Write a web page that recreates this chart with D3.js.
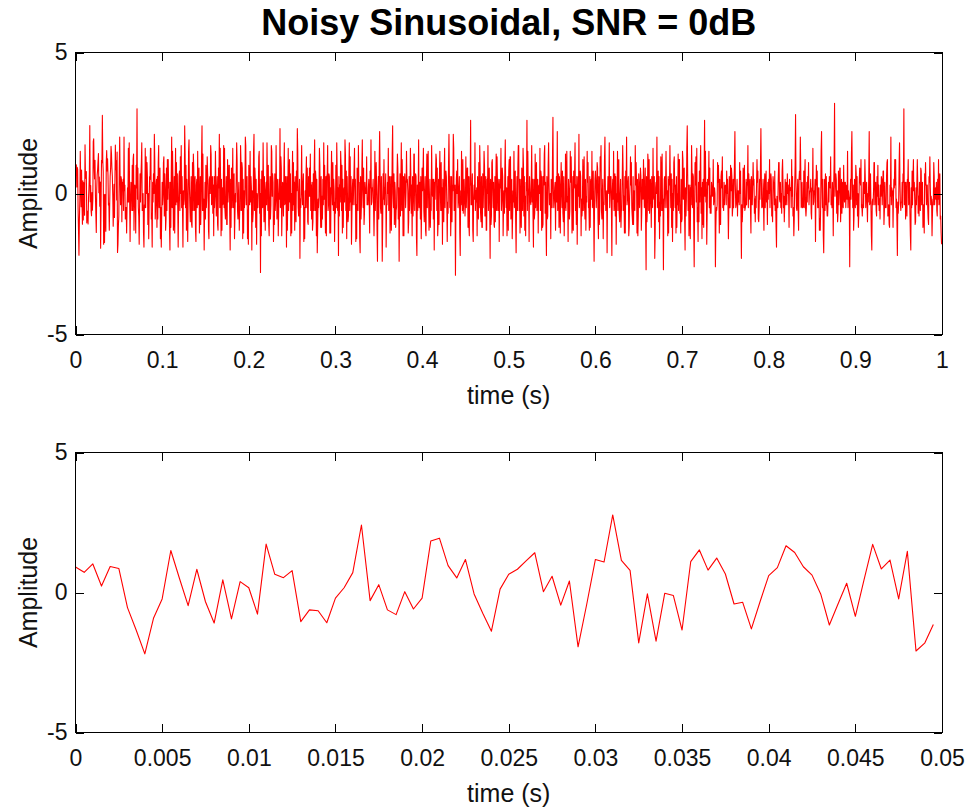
<!DOCTYPE html>
<html lang="en">
<head>
<meta charset="UTF-8">
<title>Noisy Sinusoidal, SNR = 0dB</title>
<style>
  body { margin: 0; background: #fff; }
  .axis text { font-family: "Liberation Sans", Arial, sans-serif; font-size: 23px; fill: #111; }
  .axis line { stroke: #000; shape-rendering: crispEdges; }
  .box { fill: none; stroke: #000; shape-rendering: crispEdges; }
  .label { font-family: "Liberation Sans", Arial, sans-serif; font-size: 25px; fill: #111; }
  .title { font-family: "Liberation Sans", Arial, sans-serif; font-size: 36px; font-weight: bold; fill: #000; }
</style>
</head>
<body>
<script src="https://d3js.org/d3.v7.min.js"></script>
<script>
var fs = 2000;         // sample rate (Hz), one value per 0.0005 s
var zoomSamples = 100; // lower panel shows the first 0.05 s

// amplitude samples, 20 per row (0.01 s)
var amplitude = [
  0.91,0.72,1.02,0.23,0.93,0.86,-0.54,-1.34,-2.19,-0.92,-0.23,1.50,0.50,-0.47,0.83,-0.33,-1.09,0.45,-0.94,0.39,
  0.17,-0.77,1.73,0.65,0.53,0.78,-1.04,-0.62,-0.65,-1.08,-0.20,0.17,0.71,2.41,-0.29,0.28,-0.62,-0.79,0.03,-0.59,
  -0.20,1.84,1.94,0.96,0.52,1.18,-0.05,-0.74,-1.38,0.12,0.65,0.83,1.13,1.42,0.03,0.58,-0.45,0.41,-1.94,-0.42,
  1.18,1.09,2.77,1.15,0.79,-1.80,-0.05,-1.74,-0.03,-0.11,-1.34,1.10,1.52,0.80,1.23,0.66,-0.41,-0.35,-1.30,-0.33,
  0.60,0.89,1.67,1.43,0.92,0.62,-0.05,-1.16,-0.41,0.33,-0.85,0.45,1.72,0.84,1.16,-0.23,1.47,-2.09,-1.81,-1.14,
  -0.8,0.9,2.0,0.5,-0.4,0.6,0.5,-1.0,0.4,0.2,0.5,-0.6,2.0,0.1,0.3,-0.9,-0.5,-0.5,-1.4,-0.5,
  0.2,-0.3,1.6,-0.3,1.8,-0.3,-1.7,-0.3,0.4,0.3,-0.6,1.0,-0.6,1.2,1.4,-1.3,-0.1,0.3,-0.2,-1.4,
  1.0,0.2,3.0,-0.2,0.9,-0.5,-0.8,-1.8,-0.4,0.7,-0.3,0.6,1.1,1.8,-0.6,-0.4,0.0,-1.4,-1.9,-0.4,
  -0.5,1.6,-0.5,1.3,0.0,1.1,0.6,-1.1,0.0,-1.6,-0.4,0.6,0.5,1.6,1.6,-0.9,-0.7,-1.9,0.4,-0.3,
  0.7,0.0,2.1,1.2,-0.9,-0.4,0.3,0.5,-1.2,0.6,-0.9,1.1,1.7,-0.5,0.7,0.9,-1.6,-0.5,-1.9,-0.8,
  0.4,-0.4,-0.1,1.1,1.3,-0.8,0.7,0.2,-1.3,-0.9,0.9,-0.6,1.2,-0.2,1.2,0.2,0.4,-1.2,-2.0,0.4,
  -1.2,0.7,2.0,-0.5,1.5,0.4,-1.3,-0.9,0.6,-1.4,0.3,1.6,-0.4,1.1,-0.3,0.7,-0.5,-1.9,-0.4,0.6,
  0.8,-0.6,1.3,0.0,1.7,-0.5,0.6,-0.6,-1.9,0.1,-0.4,-0.2,2.4,1.4,-0.5,1.0,-1.3,0.5,-0.3,-1.7,
  -0.3,1.5,1.9,0.2,-0.5,-1.0,-0.2,0.6,-1.1,-1.2,1.1,-0.6,1.4,0.9,-0.6,0.3,0.6,-1.3,-1.7,0.3,
  0.5,-0.5,1.5,-0.4,0.2,0.9,-1.4,-0.8,0.6,-1.1,-0.2,1.3,2.4,-0.6,1.4,-0.6,-0.2,-2.0,-0.6,0.4,
  -0.9,1.0,-0.5,-0.1,1.3,0.7,0.3,-1.3,-1.6,0.5,0.6,0.0,1.7,1.4,-0.4,-0.3,0.6,-0.7,0.3,-1.5,
  0.6,-0.5,0.0,1.5,0.3,-0.8,-0.2,0.6,-1.1,-1.3,0.9,0.2,2.1,-0.5,1.6,0.3,-1.5,0.5,-1.3,0.2,
  -0.4,-0.3,1.7,-0.5,1.6,-0.6,-0.9,-0.4,0.6,-1.1,-1.1,1.2,-0.3,0.1,1.0,1.0,-0.8,-2.0,0.5,-1.2,
  0.9,-0.5,0.3,1.6,-0.5,0.2,0.7,-1.6,-0.8,0.0,-0.3,0.6,1.8,1.2,-0.6,-0.9,-0.1,0.4,-1.3,-0.6,
  -0.6,1.7,1.1,-0.6,1.1,0.9,-1.6,0.5,-1.4,0.1,-0.5,0.0,2.0,1.7,-0.4,0.1,0.6,-1.6,-0.6,-1.8,
  1.0,0.1,-0.4,1.5,-0.3,0.6,0.2,-2.0,0.1,-1.0,-0.7,1.5,2.1,-0.6,0.9,0.5,-1.2,0.5,-1.8,0.0,
  -0.3,-0.5,0.1,1.3,1.5,-0.7,0.0,-2.8,0.5,-1.5,0.8,0.8,-0.5,1.8,0.4,-1.0,0.6,-0.3,-1.3,0.1,
  0.4,-0.4,1.8,0.6,-0.6,1.0,-1.1,-1.5,-0.2,0.6,-0.9,-0.4,1.7,1.5,-0.1,0.7,0.4,-1.7,-0.8,-1.1,
  0.7,-0.6,-0.2,1.7,0.2,-0.9,0.5,0.0,-1.5,-0.6,0.5,-0.2,2.3,-0.5,1.3,0.9,-1.5,-0.5,0.4,0.2,
  -0.8,0.8,1.8,-0.4,-0.3,0.6,-0.1,-1.9,0.6,-1.3,-0.2,1.6,-0.6,0.0,1.2,-0.3,0.7,-1.5,0.0,-1.4,
  0.3,1.5,-0.6,1.1,-0.4,0.4,-1.3,0.6,-0.7,-1.0,0.8,0.1,2.3,1.5,-0.5,-0.8,-0.1,0.5,-2.3,-0.2,
  -0.5,0.4,1.7,0.0,-0.4,0.3,0.7,-1.7,-0.5,-1.6,0.1,-0.5,0.6,1.3,-0.5,0.9,-1.0,-1.1,0.6,-0.1,
  0.9,-0.1,1.4,-0.6,0.3,-0.9,0.4,-1.3,-1.0,0.7,-0.6,0.9,1.9,-0.6,0.8,0.5,-1.5,0.5,-2.1,-1.2,
  -0.2,-0.5,-0.1,1.6,1.0,-0.4,-1.2,0.6,-1.2,-0.1,-0.9,0.5,-0.4,1.8,-0.2,1.0,-0.4,-1.4,0.6,-1.5,
  0.6,0.7,1.7,-0.6,-0.4,0.7,0.6,-1.4,0.2,-1.4,0.4,1.5,0.2,-0.4,1.1,-0.6,0.5,0.1,-1.7,-0.3,
  -0.7,1.0,-0.5,1.8,0.8,-0.6,0.2,-2.2,0.6,-0.8,0.3,-0.3,1.5,1.0,-0.6,1.0,-1.4,0.5,-1.2,0.0,
  0.2,-0.3,1.9,1.4,-0.6,0.8,-1.6,0.6,-0.3,-1.0,-0.8,0.8,1.8,-0.6,1.3,-0.3,0.6,-1.8,-0.8,0.2,
  0.5,-0.4,0.2,0.9,1.6,-0.4,0.5,-1.7,-0.4,-1.6,0.9,0.3,-0.6,1.7,0.4,0.4,-1.6,-2.1,0.6,-0.9,
  -0.4,0.9,1.9,0.1,-0.5,0.9,-1.1,-0.7,0.4,0.0,0.2,0.0,1.3,-0.4,-0.4,-0.4,0.2,0.5,-0.4,-1.4,
  0.8,0.2,1.9,-0.4,-0.3,0.2,0.1,0.5,-0.5,-1.5,-0.5,1.5,-0.6,0.3,1.1,0.3,-1.3,-2.4,-0.1,0.6,
  -0.9,1.1,2.2,0.7,-0.5,-0.7,0.6,-0.3,-2.4,-1.1,0.7,-0.2,1.2,-0.4,0.2,0.0,0.7,-1.9,-0.4,-0.4,
  0.4,0.0,1.6,-0.6,-0.4,0.6,-1.4,-0.4,0.6,-1.3,-0.3,1.4,2.4,0.0,-0.5,0.7,-1.1,0.4,0.1,-1.2,
  -0.6,-0.5,0.5,1.4,0.9,-0.9,0.2,-2.4,-0.3,0.7,-0.8,0.4,1.8,-0.6,1.2,0.3,-1.5,0.6,-1.5,0.4,
  0.7,0.3,-0.5,0.1,1.5,0.4,0.5,0.1,-1.4,-1.0,0.6,-0.6,-0.1,1.6,0.7,-0.7,0.3,-1.5,0.6,-0.8,
  -0.3,1.4,1.4,-0.6,0.4,0.7,0.6,-1.6,-2.2,0.3,-0.6,0.2,1.9,-0.5,-0.2,0.4,-0.9,0.6,-1.6,-0.5,
  0.9,0.1,0.6,1.6,-0.6,-1.0,0.0,0.6,-1.3,-1.5,0.5,1.4,-0.5,1.0,1.5,-0.2,-1.3,-0.4,0.5,-1.2,
  -0.5,-0.6,1.7,0.3,-0.1,0.5,-0.9,0.5,-2.0,0.4,-0.2,0.6,1.4,1.2,-0.6,0.9,-1.5,-1.0,0.5,-1.1,
  0.6,1.5,0.2,-0.6,1.1,-0.6,0.2,-1.8,0.5,-0.2,-1.0,0.8,1.6,-0.5,0.5,0.8,0.6,-0.3,-1.7,-0.3,
  -0.7,1.0,2.1,0.6,-0.5,0.6,-1.5,-0.7,0.6,-1.0,0.3,0.1,2.1,1.6,-0.6,-0.2,0.3,-2.9,-0.5,0.5,
  0.8,0.0,1.2,-0.5,-0.3,0.2,0.6,-1.4,-2.2,0.1,-0.4,1.5,0.1,-0.6,1.2,-0.7,-0.3,0.5,-0.1,-0.8,
  -0.4,1.3,-0.5,0.1,0.9,0.9,-1.2,0.6,-1.1,-1.5,0.6,0.3,2.6,-0.4,-0.4,0.2,0.7,-1.3,-1.7,-0.1,
  0.3,-0.2,1.8,-0.6,0.1,-0.3,0.2,-1.5,0.6,-0.5,-0.9,1.1,-0.5,1.7,0.9,-0.7,-1.0,0.6,-1.2,-1.2,
  0.7,-0.5,0.3,1.5,1.0,-0.8,-0.8,0.6,-1.3,-1.3,0.5,0.0,1.7,-0.6,0.1,0.9,-0.4,-2.3,0.5,-1.1,
  -0.8,1.1,1.2,0.2,-0.5,0.4,-1.1,-1.2,0.6,-1.0,0.2,1.4,-0.6,1.3,0.4,-0.6,0.1,0.5,-1.7,0.0,
  0.5,0.2,1.6,-0.6,-0.2,0.9,0.6,-1.5,-0.5,0.1,-0.7,0.9,1.9,0.1,-0.5,0.2,-1.5,-0.4,0.6,-1.3,
  0.8,1.2,-0.6,1.3,1.3,-0.9,-0.3,0.5,-1.6,-0.8,0.1,-0.3,1.5,-0.5,0.0,0.8,-1.0,-2.1,-0.2,0.6,
  -0.6,0.9,1.7,1.7,-0.6,0.5,-1.4,-0.3,0.5,-1.2,0.9,0.4,-0.6,1.6,1.0,-0.8,0.6,-1.3,-0.1,-1.5,
  0.4,0.1,2.6,-0.6,1.5,0.2,-0.1,-1.7,0.6,0.0,-0.3,-0.4,0.5,1.7,-0.3,0.5,-0.8,-1.9,0.5,-0.9,
  -0.7,1.4,-0.5,0.6,1.1,-0.6,0.3,0.5,-1.4,0.2,0.3,0.0,1.6,-0.6,0.8,0.6,-1.3,0.6,-1.2,-1.1,
  0.6,0.3,1.4,1.7,-0.7,0.4,-1.1,-2.2,0.6,-0.9,-0.8,1.0,1.8,0.4,-0.4,-0.4,0.0,-1.6,0.5,-0.1,
  -0.5,1.3,2.7,0.1,-0.5,-0.2,0.2,0.4,-1.3,0.1,0.6,-0.3,2.2,-0.6,0.3,0.7,-1.2,0.6,0.0,-1.4,
  0.3,1.1,0.1,-0.5,0.8,-0.7,-1.0,0.6,-1.5,-0.3,-0.5,1.4,-0.6,0.2,1.5,-0.3,-0.1,-1.7,0.5,0.1,
  -0.9,-0.6,1.5,0.4,1.3,0.4,-1.4,-1.0,0.6,-1.3,0.8,0.2,0.7,1.8,-0.6,0.3,-1.1,0.6,-1.8,-0.2,
  0.6,-0.1,2.1,-0.5,0.0,0.8,0.6,-1.5,-0.2,-0.8,-0.4,1.2,-0.6,0.1,1.3,-0.5,-0.9,0.5,-1.3,-0.1,
  -0.3,1.5,0.4,1.1,-0.5,-0.4,-1.3,0.6,-1.2,0.3,0.5,-0.2,1.5,-0.5,-0.1,0.8,-0.8,-2.4,-0.4,0.5,
  0.8,0.4,-0.5,0.1,1.1,0.9,-0.9,-1.6,0.6,-1.1,-0.6,1.3,0.8,1.7,-0.6,-0.9,0.0,0.5,-1.6,-0.3,
  -0.4,1.2,2.0,0.2,-0.6,-0.5,0.1,-2.1,-0.1,0.6,0.4,0.0,1.8,-0.5,0.1,0.6,0.6,-0.6,-2.2,0.1,
  0.5,-0.2,1.5,-0.6,0.0,0.7,-0.8,0.6,-1.8,0.0,-0.3,1.5,-0.6,1.1,1.2,-0.7,-1.0,-0.1,0.5,-1.2,
  -0.6,-0.6,0.6,1.7,0.8,-0.6,-0.1,-1.4,0.6,-1.4,0.8,0.2,2.0,-0.4,-0.2,0.4,0.6,-1.5,-1.2,-0.1,
  0.3,1.3,0.3,1.1,-0.5,-0.8,-1.1,0.6,-1.1,0.1,-0.5,-0.6,1.7,0.3,1.1,0.3,-1.4,0.5,-1.5,-0.8,
  0.7,0.2,-0.5,0.3,0.9,0.6,-1.3,-0.7,0.5,0.2,-0.2,1.2,0.2,-0.5,0.3,0.9,-1.1,-2.7,0.6,-1.0,
  -0.5,1.4,1.1,-0.6,1.2,-0.7,-0.2,0.5,0.0,-1.2,0.6,0.1,-0.5,1.6,0.0,-0.2,0.6,-2.3,-1.4,0.2,
  0.4,0.0,2.0,-0.5,0.1,0.8,-1.0,0.6,-1.6,-0.3,-0.8,1.3,0.6,-0.6,1.4,-0.6,-0.2,-2.7,-0.3,0.5,
  0.6,-0.5,0.2,1.5,0.2,-0.5,0.1,-1.5,0.6,-1.4,0.5,0.3,1.7,0.4,-0.5,0.7,-1.2,0.5,-1.7,0.0,
  -0.6,1.1,1.3,0.3,-0.5,0.3,-1.4,0.6,-1.2,0.0,-0.4,1.4,-0.6,1.2,1.2,-0.7,-0.4,-1.4,0.5,-1.0,
  -0.9,1.5,1.2,-0.2,0.8,0.9,-0.9,-2.0,0.2,-0.8,-0.2,1.6,2.4,0.7,-0.6,0.3,-1.5,-0.5,0.3,-1.6,
  0.2,-0.4,1.7,0.8,-0.5,0.7,0.6,-1.2,-2.6,-0.4,1.1,0.3,1.3,-0.3,1.6,-1.0,-0.5,-1.7,0.4,-1.0,
  0.8,-0.3,1.0,1.7,-0.7,0.2,-1.6,0.4,-1.1,0.5,-1.2,0.9,2.6,-0.1,1.5,-0.3,0.4,-1.8,-0.7,0.5,
  0.4,0.3,1.5,-0.5,0.9,-0.7,-0.1,-0.7,0.4,0.2,-0.1,0.0,1.2,-0.4,-0.2,0.2,0.0,-2.6,-1.2,-0.5,
  -0.6,-0.4,1.1,0.4,1.0,0.1,-1.4,0.5,-1.1,-1.1,0.6,0.8,0.2,1.3,-0.5,-0.3,-0.6,0.4,-0.4,0.2,
  0.3,0.2,-0.4,0.8,0.0,0.5,-0.4,-1.6,-0.5,0.6,-0.5,-0.5,1.0,0.1,0.9,0.6,-0.8,-0.5,0.5,-0.5,
  0.2,1.1,2.2,0.3,-0.5,-0.4,0.0,0.5,-0.8,0.1,-0.3,0.1,-0.4,1.1,0.0,0.8,-0.7,-2.3,-0.4,-1.0,
  -0.5,0.9,0.7,-0.5,1.0,-0.6,-0.5,-0.4,0.5,-0.4,0.4,0.3,1.7,-0.5,0.7,-0.2,0.0,0.5,-0.6,-1.4,
  0.6,0.4,-0.4,0.2,1.1,0.3,0.5,-0.7,-0.2,-1.0,-0.1,-0.5,0.4,1.2,0.4,0.8,-0.9,-1.0,-0.5,0.5,
  -0.2,1.0,2.3,0.6,-0.5,-0.5,-0.4,0.5,-0.4,-1.3,0.3,0.7,-0.5,0.3,0.8,-0.3,0.1,-1.1,0.4,-0.2,
  0.5,0.0,1.2,-0.5,0.3,0.7,0.5,-0.8,-0.6,-1.0,0.6,0.4,0.4,-0.4,0.8,-0.6,-0.2,-1.2,-1.9,-0.1,
  -0.3,-0.5,0.5,1.1,1.1,-0.2,-0.3,0.4,-0.5,0.0,-0.7,0.8,1.2,0.4,-0.5,-0.1,-1.0,-0.4,0.5,-0.4,
  0.4,0.1,-0.4,0.7,0.0,0.3,-0.1,-1.2,0.5,0.1,0.2,0.2,-0.5,1.2,-0.1,0.6,-0.8,-0.5,-1.5,-0.9,
  0.3,1.0,2.8,0.4,-0.5,-0.6,0.0,0.5,-0.6,-1.3,0.5,0.8,0.5,2.0,0.9,-0.5,-0.4,0.4,-0.5,-0.5,
  -0.4,0.8,-0.5,0.6,1.2,-0.5,-0.8,-0.5,0.4,-0.3,0.6,0.2,1.1,-0.4,0.0,0.1,0.1,0.5,-0.7,-0.9,
  0.2,0.1,1.6,-0.4,-0.3,0.1,0.0,0.5,-1.7,-0.2,1.0,0.3,0.8,-0.5,-0.5,0.2,0.2,-1.3,-0.9,-1.3,
  -0.4,1.5,2.2,0.3,-0.5,0.5,-1.5,-2.1,-0.7,0.5,-0.6,0.7,-0.4,0.6,-0.4,-0.8,-0.8,-0.3,0.4,-0.3,
  0.6,0.3,0.2,1.3,-0.4,-0.2,-0.5,0.4,-0.1,-1.5,0.3,1.1,3.2,-0.1,0.4,0.7,0.5,-0.7,0.1,-1.0,
  -0.7,0.8,-0.4,0.1,0.9,0.9,-1.0,-0.3,0.5,-0.7,0.4,-0.3,-0.5,1.0,0.0,-0.3,0.4,0.4,-0.5,0.2,
  0.3,-0.2,1.5,-0.5,0.1,-0.1,-0.2,-2.6,0.0,0.5,-0.2,1.4,2.2,0.5,-0.5,0.3,-1.3,-0.8,0.5,0.0,
  -0.5,1.0,0.7,-0.4,0.6,-0.8,0.0,-1.2,-0.7,0.4,0.9,0.5,0.3,1.2,-0.5,-0.4,-0.8,-0.4,0.4,-0.5,
  0.4,0.0,1.2,0.5,-0.5,0.2,0.4,-0.4,-1.0,0.0,-0.3,0.7,2.2,-0.4,-0.3,0.7,-0.4,-1.5,-2.0,-0.3,
  -0.2,-0.4,0.1,1.1,1.1,-0.4,0.3,0.4,-0.6,-0.8,0.6,-0.1,1.0,-0.4,0.3,-0.6,-0.2,-0.9,0.3,-0.1,
  0.6,0.5,-0.4,0.2,0.8,0.8,-1.1,-0.6,0.4,-0.5,-0.4,-0.5,0.6,1.1,1.2,-0.8,-0.5,-0.4,-1.1,-1.2,
  0.3,-0.1,2.0,-0.4,0.2,0.1,0.1,-1.2,-0.1,0.5,0.2,1.2,0.3,1.2,-0.5,-0.2,-1.0,-2.2,-0.3,-0.7,
  -0.3,1.0,1.8,0.4,-0.4,-0.6,-0.3,-0.3,0.4,-0.5,0.7,0.4,3.0,-0.4,-0.2,0.4,-0.9,0.4,-0.2,-0.8,
  0.5,0.4,1.2,-0.4,-0.1,0.4,-0.7,-1.5,-2.0,0.2,-0.5,0.8,-0.4,0.5,1.2,0.1,0.4,-0.2,-1.1,-1.0,
  0.2,-0.4,0.4,1.2,0.4,-0.7,-0.1,-0.8,0.4,0.2,-0.6,0.9,0.8,-0.4,0.3,0.4,-1.2,-0.7,-0.4,-1.4,
  0.7,0.3,1.1,0.3,-0.4,0.3,0.3,-0.5,-0.9,-1.1,0.6,0.4,1.3,0.2,-0.4,-0.1,-0.3,-1.5,-0.7,-0.2,
  -0.4,1.1,0.6,-0.4,0.1,0.2,-0.2,0.4,-0.6,-0.8,0.5,-0.2,1.2,-0.4,0.0,0.7,-0.9,-0.8,-1.4,-1.8
];

var topXTicks = [0, 0.1, 0.2, 0.3, 0.4, 0.5, 0.6, 0.7, 0.8, 0.9, 1];
var topXLabels = ["0", "0.1", "0.2", "0.3", "0.4", "0.5", "0.6", "0.7", "0.8", "0.9", "1"];
var zoomXTicks = [0, 0.005, 0.01, 0.015, 0.02, 0.025, 0.03, 0.035, 0.04, 0.045, 0.05];
var zoomXLabels = ["0", "0.005", "0.01", "0.015", "0.02", "0.025", "0.03", "0.035", "0.04", "0.045", "0.05"];
var yTicks = [-5, 0, 5];
var yLabels = ["-5", "0", "5"];

var width = 967, height = 809;
var left = 75.5, right = 942;
var tickLen = 8.5;

var svg = d3.select('body').append('svg')
  .attr('width', width)
  .attr('height', height);

svg.append('text').attr('class', 'title')
  .attr('x', (left + right) / 2).attr('y', 35)
  .attr('text-anchor', 'middle')
  .text('Noisy Sinusoidal, SNR = 0dB');

function panel(yTop, yBottom, xDomain, xTicks, xLabels, data, id) {
  var x = d3.scaleLinear().domain(xDomain).range([left, right]);
  var y = d3.scaleLinear().domain([-5, 5]).range([yBottom, yTop]);
  var g = svg.append('g');

  g.append('clipPath').attr('id', id)
    .append('rect')
    .attr('x', left).attr('y', yTop)
    .attr('width', right - left).attr('height', yBottom - yTop);

  var line = d3.line()
    .x(function(d, i) { return x(i / fs); })
    .y(function(d) { return y(d); });

  g.append('path')
    .datum(data)
    .attr('clip-path', 'url(#' + id + ')')
    .attr('d', line)
    .attr('fill', 'none')
    .attr('stroke', '#ff0000')
    .attr('stroke-width', 1.1)
    .attr('stroke-linejoin', 'round');

  function noDomain(sel) { sel.select('.domain').remove(); }

  g.append('g').attr('class', 'axis')
    .attr('transform', 'translate(0,' + yBottom + ')')
    .call(d3.axisBottom(x).tickValues(xTicks)
      .tickFormat(function(d, i) { return xLabels[i]; })
      .tickSizeInner(-tickLen).tickSizeOuter(0).tickPadding(17))
    .call(noDomain);

  g.append('g').attr('class', 'axis')
    .attr('transform', 'translate(0,' + yTop + ')')
    .call(d3.axisTop(x).tickValues(xTicks).tickFormat('')
      .tickSizeInner(-tickLen).tickSizeOuter(0))
    .call(noDomain);

  g.append('g').attr('class', 'axis')
    .attr('transform', 'translate(' + left + ',0)')
    .call(d3.axisLeft(y).tickValues(yTicks)
      .tickFormat(function(d, i) { return yLabels[i]; })
      .tickSizeInner(-tickLen).tickSizeOuter(0).tickPadding(8))
    .call(noDomain);

  g.append('g').attr('class', 'axis')
    .attr('transform', 'translate(' + right + ',0)')
    .call(d3.axisRight(y).tickValues(yTicks).tickFormat('')
      .tickSizeInner(-tickLen).tickSizeOuter(0))
    .call(noDomain);

  g.append('rect').attr('class', 'box')
    .attr('x', left).attr('y', yTop)
    .attr('width', right - left).attr('height', yBottom - yTop);

  g.append('text').attr('class', 'label')
    .attr('x', (left + right) / 2).attr('y', yBottom + 69)
    .attr('text-anchor', 'middle')
    .text('time (s)');

  g.append('text').attr('class', 'label')
    .attr('transform', 'translate(37,' + ((yTop + yBottom) / 2) + ') rotate(-90)')
    .attr('text-anchor', 'middle')
    .text('Amplitude');
}

panel(52.5, 334.5, [0, 1], topXTicks, topXLabels, amplitude, 'clipTop');
panel(452.5, 732.5, [0, 0.05], zoomXTicks, zoomXLabels, amplitude.slice(0, zoomSamples), 'clipZoom');
</script>
</body>
</html>
